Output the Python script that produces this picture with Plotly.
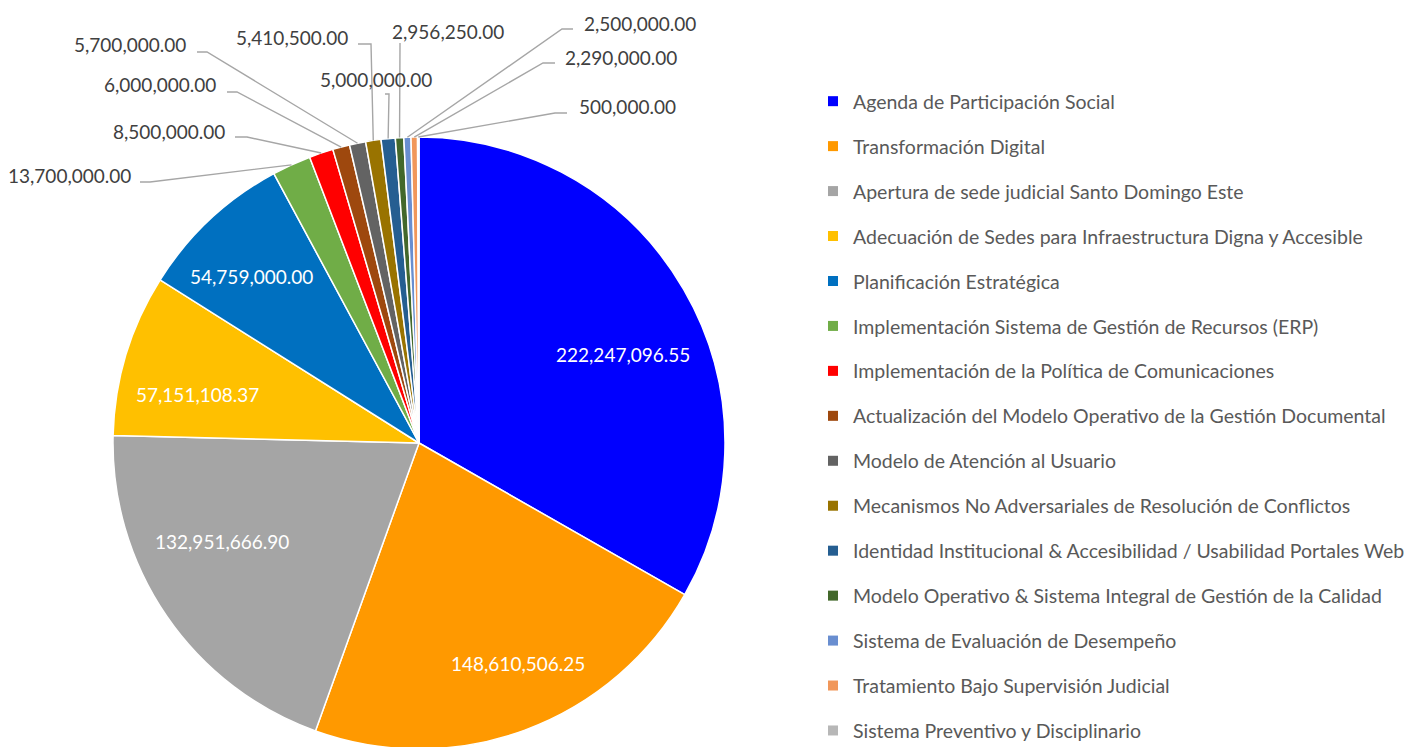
import math
import plotly.graph_objects as go

# ---------------- data ----------------
labels = [
    "Agenda de Participación Social",
    "Transformación Digital",
    "Apertura de sede judicial Santo Domingo Este",
    "Adecuación de Sedes para Infraestructura Digna y Accesible",
    "Planificación Estratégica",
    "Implementación Sistema de Gestión de Recursos (ERP)",
    "Implementación de la Política de Comunicaciones",
    "Actualización del Modelo Operativo de la Gestión Documental",
    "Modelo de Atención al Usuario",
    "Mecanismos No Adversariales de Resolución de Conflictos",
    "Identidad Institucional & Accesibilidad / Usabilidad Portales Web",
    "Modelo Operativo & Sistema Integral de Gestión de la Calidad",
    "Sistema de Evaluación de Desempeño",
    "Tratamiento Bajo Supervisión Judicial",
    "Sistema Preventivo y Disciplinario",
]
values = [
    222247096.55, 148610506.25, 132951666.90, 57151108.37, 54759000.00,
    13700000.00, 8500000.00, 6000000.00, 5700000.00, 5410500.00,
    5000000.00, 2956250.00, 2500000.00, 2290000.00, 500000.00,
]
colors = [
    "#0000FF", "#FF9900", "#A5A5A5", "#FFC000", "#0070C0",
    "#70AD47", "#FF0000", "#9E480E", "#636363", "#997300",
    "#255E91", "#43682B", "#698ED0", "#F1975A", "#B7B7B7",
]

# ---------------- layout constants (screen pixels) ----------------
W, H = 1414, 747
OFF = 8  # page body margin
CX, CY, R = 419, 443, 306
FONT = "Lato"
FS = 19

def px_to_paper(x, y):
    return (x - OFF) / W, 1 - (y - OFF) / H

# inside label centres (screen pixels) for the five large slices
inside_pos = {0: (623, 354), 1: (518, 663), 2: (222, 541), 3: (197, 394), 4: (251, 276)}

# outside labels: index -> (text x, text y, anchor, leader start, elbow)
outside_pos = {
    5:  (133, 175, "right", (140, 182), (150, 182)),
    6:  (227, 131, "right", (235, 137), (247, 137)),
    7:  (218, 85, "right", (227, 92), (237, 92)),
    8:  (188, 45, "right", (197, 52), (207, 52)),
    9:  (350, 37, "right", (358, 44), (371, 44)),
    10: (376, 80, "center", (385, 94), (389, 94)),
    11: (448, 32, "center", (400, 43), (400, 44)),
    12: (582, 23, "left", (573, 29), (562, 29)),
    13: (563, 57, "left", (555, 63), (543, 63)),
    14: (577, 107, "left", (567, 113), (555, 113)),
}

total = sum(values)
mid_angles = []
cum = 0.0
for v in values:
    mid_angles.append((cum + v / 2) / total * 360.0)
    cum += v

x0, y1 = px_to_paper(CX - R, CY - R)
x1, y0 = px_to_paper(CX + R, CY + R)

fig = go.Figure()

fig.add_trace(go.Pie(
    labels=labels,
    values=values,
    sort=False,
    direction="clockwise",
    rotation=0,
    marker=dict(colors=colors, line=dict(color="white", width=1.5)),
    textinfo="none",
    hoverinfo="label+value+percent",
    showlegend=False,
    domain=dict(x=[x0, x1], y=[max(0.0, y0), min(1.0, y1)]),
))

# legend via dummy traces (one group each to control spacing)
for i, (lab, col) in enumerate(zip(labels, colors)):
    fig.add_trace(go.Scatter(
        x=[None], y=[None], mode="markers", name=lab,
        marker=dict(symbol="square", size=10, color=col),
        legendgroup=f"g{i}", showlegend=True, hoverinfo="skip",
    ))

annotations = []
shapes = []

for i, (cx, cy) in inside_pos.items():
    x, y = px_to_paper(cx, cy)
    annotations.append(dict(
        x=x, y=y, xref="paper", yref="paper", showarrow=False,
        text=f"{values[i]:,.2f}", xanchor="center", yanchor="middle",
        font=dict(family=FONT, size=FS, color="white"),
    ))

for i, (tx, ty, anchor, start, elbow) in outside_pos.items():
    x, y = px_to_paper(tx, ty)
    annotations.append(dict(
        x=x, y=y, xref="paper", yref="paper", showarrow=False,
        text=f"{values[i]:,.2f}", xanchor=anchor, yanchor="middle",
        font=dict(family=FONT, size=FS, color="#404040"),
    ))
    a = math.radians(mid_angles[i])
    ex = CX + R * math.sin(a)
    ey = CY - R * math.cos(a)
    pts = [start, elbow, (ex, ey)]
    path = "M " + " L ".join(
        f"{px_to_paper(px, py)[0]:.5f},{px_to_paper(px, py)[1]:.5f}" for px, py in pts
    )
    shapes.append(dict(type="path", path=path, xref="paper", yref="paper",
                       line=dict(color="#A6A6A6", width=1.4)))

lx, ly = px_to_paper(813, 82)

fig.update_layout(
    width=W, height=H,
    margin=dict(l=0, r=0, t=0, b=0),
    paper_bgcolor="white",
    plot_bgcolor="rgba(0,0,0,0)",
    xaxis=dict(visible=False),
    yaxis=dict(visible=False),
    showlegend=True,
    legend=dict(
        x=lx, y=ly, xanchor="left", yanchor="top",
        font=dict(family=FONT, size=19.5, color="#595959"),
        tracegroupgap=16.6,
        bgcolor="rgba(0,0,0,0)",
    ),
    annotations=annotations,
    shapes=shapes,
    font=dict(family=FONT),
)

fig.write_html("out.html")
